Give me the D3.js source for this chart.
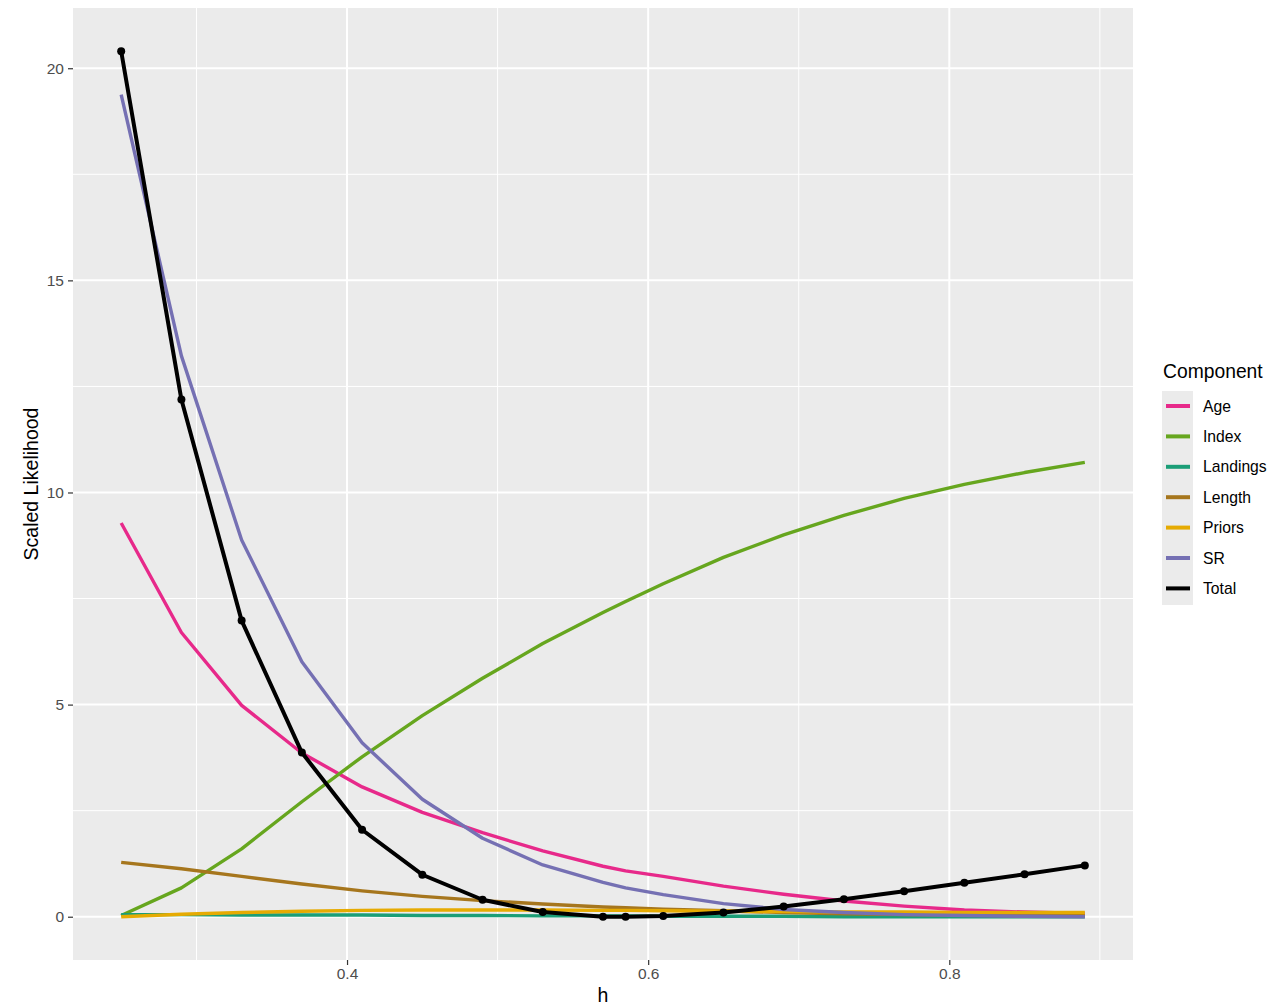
<!DOCTYPE html>
<html><head><meta charset="utf-8">
<script src="https://cdn.jsdelivr.net/npm/d3@7"></script>
<style>body{margin:0;background:#fff;} text{font-family:"Liberation Sans",Arial,sans-serif;}</style>
</head><body><svg id="c" width="1272" height="1006"></svg>
<script>
const hValues = [0.25,0.29,0.33,0.37,0.41,0.45,0.49,0.53,0.57,0.585,0.61,0.65,0.69,0.73,0.77,0.81,0.85,0.89];
const components = ["Age","Index","Landings","Length","Priors","SR","Total"];
const colors = ["#E7298A","#66A61E","#1B9E77","#A6761D","#E6AB02","#7570B3","#000000"];
const ageVals      = [9.28,6.70,4.98,3.86,3.06,2.46,1.98,1.55,1.19,1.08,0.95,0.72,0.53,0.37,0.25,0.16,0.11,0.08];
const indexVals    = [0.03,0.68,1.60,2.71,3.77,4.74,5.62,6.44,7.17,7.43,7.85,8.47,9.00,9.46,9.86,10.19,10.47,10.71];
const landingsVals = [0.05,0.05,0.04,0.04,0.04,0.03,0.03,0.02,0.02,0.02,0.01,0.01,0.01,0.00,0.00,0.00,0.00,0.00];
const lengthVals   = [1.28,1.13,0.95,0.77,0.61,0.48,0.38,0.30,0.23,0.21,0.18,0.14,0.10,0.07,0.05,0.04,0.03,0.03];
const priorsVals   = [0.00,0.06,0.10,0.13,0.15,0.16,0.16,0.16,0.15,0.15,0.14,0.13,0.12,0.11,0.11,0.10,0.10,0.10];
const srVals       = [19.38,13.22,8.88,6.01,4.10,2.77,1.85,1.22,0.81,0.68,0.52,0.31,0.17,0.10,0.05,0.03,0.01,0.00];
const totalVals    = [20.40,12.19,6.98,3.87,2.05,0.99,0.40,0.11,0.00,0.00,0.02,0.10,0.24,0.41,0.60,0.80,1.00,1.21];
const xTicks = [0.4,0.6,0.8];
const xMinor = [0.3,0.5,0.7,0.9];
const yTicks = [0,5,10,15,20];
const yMinor = [2.5,7.5,12.5,17.5];
const seriesVals = [ageVals,indexVals,landingsVals,lengthVals,priorsVals,srVals,totalVals];

const svg = d3.select("#c");
const L=73,R=1133,T=8,B=960;
const xr = d3.extent(hValues), xpad=(xr[1]-xr[0])*0.05;
const yr = [0, d3.max(totalVals.concat(srVals))], ypad=(yr[1]-yr[0])*0.05;
const x = d3.scaleLinear().domain([xr[0]-xpad, xr[1]+xpad]).range([L,R]);
const y = d3.scaleLinear().domain([yr[0]-ypad, yr[1]+ypad]).range([B,T]);

svg.append("rect").attr("x",L).attr("y",T).attr("width",R-L).attr("height",B-T).attr("fill","#EBEBEB");
const g = svg.append("g");
xMinor.forEach(v=>g.append("line").attr("x1",x(v)).attr("x2",x(v)).attr("y1",T).attr("y2",B).attr("stroke","#fff").attr("stroke-width",1));
yMinor.forEach(v=>g.append("line").attr("y1",y(v)).attr("y2",y(v)).attr("x1",L).attr("x2",R).attr("stroke","#fff").attr("stroke-width",1));
xTicks.forEach(v=>g.append("line").attr("x1",x(v)).attr("x2",x(v)).attr("y1",T).attr("y2",B).attr("stroke","#fff").attr("stroke-width",2));
yTicks.forEach(v=>g.append("line").attr("y1",y(v)).attr("y2",y(v)).attr("x1",L).attr("x2",R).attr("stroke","#fff").attr("stroke-width",2));

const xAxis = svg.append("g").attr("transform",`translate(0,${B})`)
  .call(d3.axisBottom(x).tickValues(xTicks).tickSize(5).tickPadding(3).tickFormat(d3.format(".1f")));
const yAxis = svg.append("g").attr("transform",`translate(${L},0)`)
  .call(d3.axisLeft(y).tickValues(yTicks).tickSize(5).tickPadding(4));
[xAxis,yAxis].forEach(a=>{a.select(".domain").remove();
  a.selectAll(".tick line").attr("stroke","#333").attr("stroke-width",1.2);
  a.selectAll(".tick text").attr("fill","#4D4D4D").style("font-size","15.5px").style("font-family","'Liberation Sans',Arial,sans-serif");});

const line = d3.line().x((d,i)=>x(hValues[i])).y(d=>y(d));
seriesVals.forEach((vals,k)=>{
  svg.append("path").attr("d",line(vals)).attr("fill","none").attr("stroke",colors[k])
    .attr("stroke-width",k===6?4:3.4).attr("stroke-linejoin","round");
});
svg.append("g").selectAll("circle").data(totalVals).join("circle")
  .attr("cx",(d,i)=>x(hValues[i])).attr("cy",d=>y(d)).attr("r",4).attr("fill","#000");

svg.append("text").attr("x",(L+R)/2).attr("y",1002).attr("text-anchor","middle").style("font-size","19.5px").attr("fill","#000").text("h");
svg.append("text").attr("transform",`translate(38,${(T+B)/2}) rotate(-90)`).attr("text-anchor","middle").style("font-size","19.5px").attr("fill","#000").text("Scaled Likelihood");

const lg = svg.append("g");
lg.append("text").attr("x",1163).attr("y",378).style("font-size","19.3px").attr("fill","#000").text("Component");
lg.append("rect").attr("x",1162).attr("y",391).attr("width",31).attr("height",214).attr("fill","#EBEBEB");
components.forEach((c,i)=>{
  const cy = 406 + i*30.4;
  lg.append("line").attr("x1",1166).attr("x2",1190).attr("y1",cy).attr("y2",cy).attr("stroke",colors[i]).attr("stroke-width",4);
  lg.append("text").attr("x",1203).attr("y",cy+5.5).style("font-size","15.7px").attr("fill","#000").text(c);
});
</script></body></html>
